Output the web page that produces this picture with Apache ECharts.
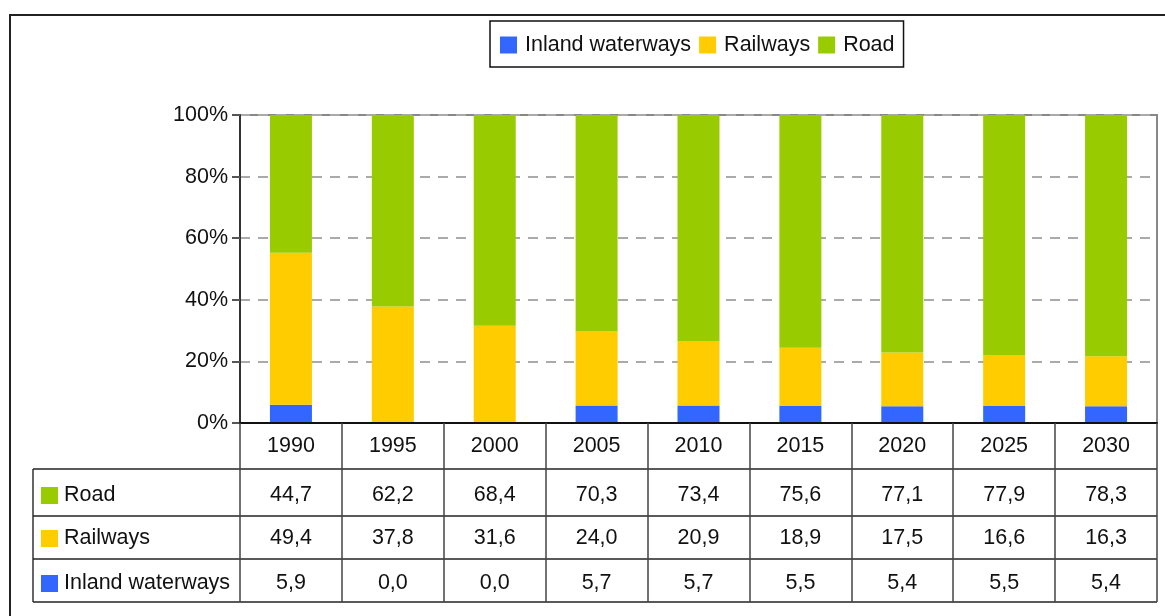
<!DOCTYPE html>
<html>
<head>
<meta charset="utf-8">
<script src="https://cdn.jsdelivr.net/npm/echarts@6/dist/echarts.min.js"></script>
<style>
  html, body { margin: 0; padding: 0; background: #fff; }
  #main { width: 1165px; height: 616px; }
</style>
</head>
<body>
<div id="main"></div>
<script>
// 数据
const years = ['1990', '1995', '2000', '2005', '2010', '2015', '2020', '2025', '2030'];
const inland = [5.9, 0.0, 0.0, 5.7, 5.7, 5.5, 5.4, 5.5, 5.4];
const railways = [49.4, 37.8, 31.6, 24.0, 20.9, 18.9, 17.5, 16.6, 16.3];
const road = [44.7, 62.2, 68.4, 70.3, 73.4, 75.6, 77.1, 77.9, 78.3];
const yTicks = [0, 20, 40, 60, 80, 100];

const FONT = "'Liberation Sans', Arial, sans-serif";
const FS = 21.5;
const colors = { inland: '#3366FF', rail: '#FFCC00', road: '#99CC00' };

// 表格行（从上到下）
const tableRows = [
  { name: 'Road', values: road, color: colors.road },
  { name: 'Railways', values: railways, color: colors.rail },
  { name: 'Inland waterways', values: inland, color: colors.inland }
];

function fmt(v) {
  return v.toFixed(1).replace('.', ',');
}

const chart = echarts.init(document.getElementById('main'), null, { renderer: 'canvas' });

const gridLeft = 240, gridTop = 115, gridRight = 8, gridBottom = 193;
const rowCenters = [495, 538, 583]; // 表格每行文字中心
const rowLines = [469, 516, 559, 602];

// 表格的数值行用额外的类目轴来画
const tableAxes = tableRows.map((row, i) => ({
  type: 'category',
  gridIndex: 0,
  position: 'bottom',
  offset: rowCenters[i] - 423 - 10 - FS / 2,
  data: row.values.map(fmt),
  axisLine: { show: false },
  axisTick: { show: false },
  axisLabel: {
    interval: 0,
    margin: 10,
    color: '#111',
    fontSize: FS,
    fontFamily: FONT
  }
}));

const graphics = [
  // 外框
  {
    type: 'rect',
    shape: { x: 10, y: 15, width: 1200, height: 700 },
    style: { fill: null, stroke: '#222', lineWidth: 2 },
    silent: true
  },
  // 表格左边线
  {
    type: 'line',
    shape: { x1: 33, y1: rowLines[0], x2: 33, y2: rowLines[3] },
    style: { stroke: '#333', lineWidth: 1.5 },
    silent: true
  }
];
rowLines.forEach(y => {
  graphics.push({
    type: 'line',
    shape: { x1: 33, y1: y, x2: 1157, y2: y },
    style: { stroke: '#222', lineWidth: 1.5 },
    silent: true
  });
});
tableRows.forEach((row, i) => {
  graphics.push({
    type: 'rect',
    shape: { x: 41, y: rowCenters[i] - 8, width: 17, height: 17 },
    style: { fill: row.color },
    silent: true
  });
  graphics.push({
    type: 'text',
    x: 64,
    y: rowCenters[i],
    style: {
      text: row.name,
      fill: '#111',
      font: FS + 'px ' + FONT,
      verticalAlign: 'middle',
      align: 'left'
    },
    silent: true
  });
});

const option = {
  backgroundColor: '#fff',
  animation: false,
  color: [colors.inland, colors.rail, colors.road],
  legend: {
    left: 490,
    top: 21,
    padding: [13, 9, 11, 10],
    itemGap: 8,
    itemWidth: 17,
    itemHeight: 17,
    icon: 'rect',
    borderColor: '#111',
    borderWidth: 1.5,
    textStyle: {
      fontSize: FS,
      fontFamily: FONT,
      color: '#111',
      padding: [0, 0, 0, 3]
    },
    data: ['Inland waterways', 'Railways', 'Road']
  },
  grid: {
    left: gridLeft,
    top: gridTop,
    right: gridRight,
    bottom: gridBottom,
    show: true,
    borderColor: '#888',
    borderWidth: 2,
    containLabel: false
  },
  xAxis: [
    {
      type: 'category',
      data: years,
      position: 'bottom',
      axisLine: { lineStyle: { color: '#111', width: 2 } },
      axisTick: {
        show: true,
        interval: 0,
        length: rowLines[3] - 423,
        lineStyle: { color: '#444', width: 1.5 }
      },
      axisLabel: {
        interval: 0,
        margin: 12,
        color: '#111',
        fontSize: FS,
        fontFamily: FONT
      },
      z: 5
    }
  ].concat(tableAxes),
  yAxis: {
    type: 'value',
    min: yTicks[0],
    max: yTicks[yTicks.length - 1],
    interval: 20,
    axisLine: { show: true, lineStyle: { color: '#333', width: 2 } },
    axisTick: { show: true, length: 8, lineStyle: { color: '#555', width: 2 } },
    axisLabel: {
      formatter: '{value}%',
      margin: 12,
      color: '#111',
      fontSize: FS,
      fontFamily: FONT
    },
    splitLine: {
      show: true,
      lineStyle: { color: '#aaa', width: 2, type: [10, 8] }
    }
  },
  series: [
    {
      name: 'Inland waterways',
      type: 'bar',
      stack: 'total',
      barWidth: 42,
      data: inland,
      itemStyle: { color: colors.inland }
    },
    {
      name: 'Railways',
      type: 'bar',
      stack: 'total',
      barWidth: 42,
      data: railways,
      itemStyle: { color: colors.rail }
    },
    {
      name: 'Road',
      type: 'bar',
      stack: 'total',
      barWidth: 42,
      data: road,
      itemStyle: { color: colors.road }
    }
  ],
  graphic: graphics
};

chart.setOption(option);
</script>
</body>
</html>
